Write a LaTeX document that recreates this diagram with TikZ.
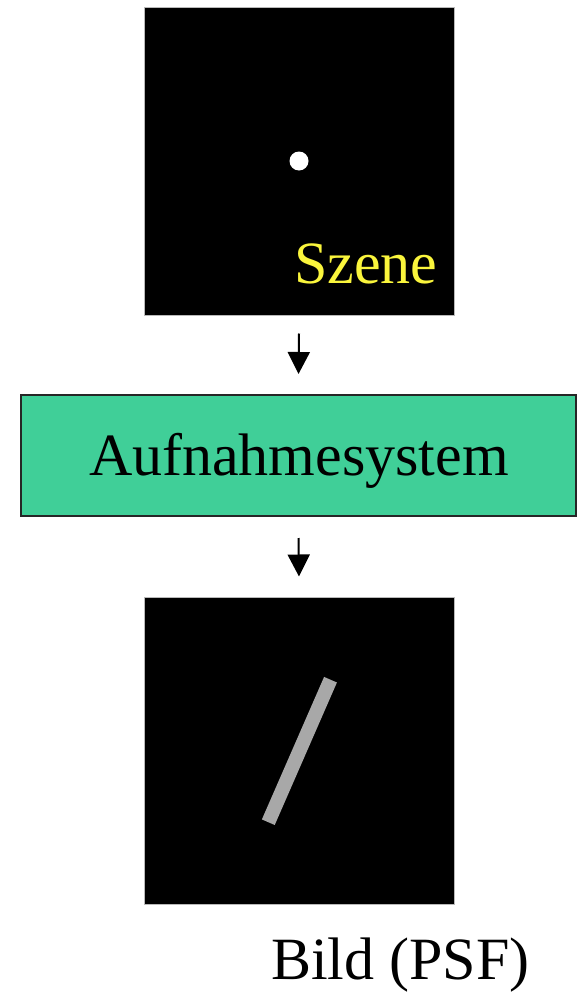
\documentclass[tikz,border=0pt]{standalone}
\usepackage{fontspec}
\setmainfont{Liberation Serif}
\usetikzlibrary{arrows.meta}
\definecolor{boxgreen}{RGB}{64,207,152}
\definecolor{scenyellow}{RGB}{250,245,60}
\definecolor{bargray}{RGB}{168,168,168}
\begin{document}
\begin{tikzpicture}[x=1pt,y=-1pt,
  panel/.style={draw=gray!55,line width=1pt,fill=black,inner sep=0pt,minimum width=310pt,minimum height=308pt},
  bigtext/.style={font=\fontsize{60}{72}\selectfont,inner sep=0pt},
  arr/.style={line width=2pt,-{Triangle[length=22pt,width=22pt]}}]
\useasboundingbox (0,0) rectangle (580,993);
\node[panel] (scene) at (299,161) {};
\fill[white] (299,161) circle (9.5pt);
\node[bigtext,text=scenyellow,anchor=base west] (szene) at (294,283) {Szene};
\node[draw=black!85,line width=2pt,fill=boxgreen,minimum width=555pt,minimum height=121pt,inner sep=0pt] (box) at (298.5,455.5) {};
\node[bigtext,anchor=base] (boxtext) at (299,475) {Aufnahmesystem};
\node[panel,minimum height=307pt] (image) at (299,750.5) {};
\draw[bargray,line width=14pt] (330.5,679.7) -- (268.3,822.2);
\node[bigtext,anchor=base west] (bild) at (271,979) {Bild (PSF)};
\draw[arr] ([yshift=-18pt]scene.south) -- ([yshift=20pt]box.north);
\draw[arr] ([yshift=-21pt]box.south) -- ([yshift=20pt]image.north);
\end{tikzpicture}
\end{document}
